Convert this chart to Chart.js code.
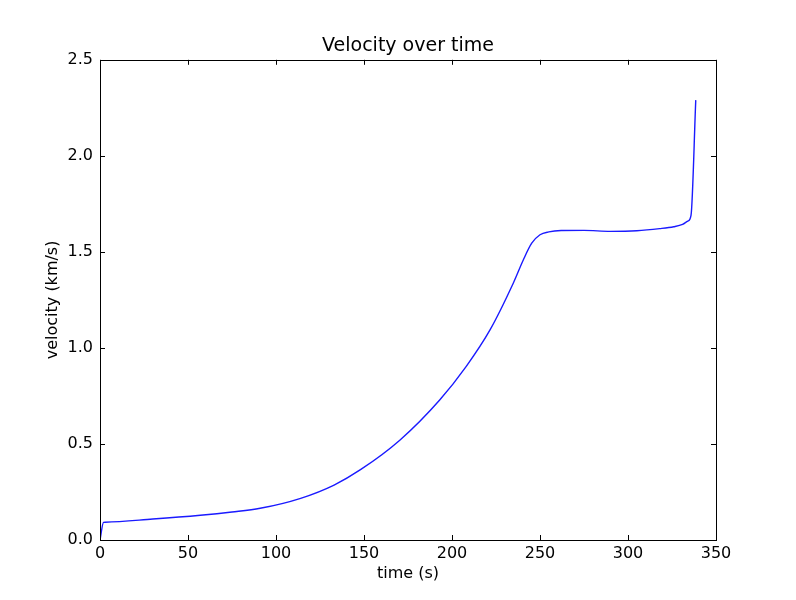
<!DOCTYPE html>
<html>
<head>
<meta charset="utf-8">
<script src="https://cdn.jsdelivr.net/npm/chart.js@4/dist/chart.umd.min.js"></script>
<style>
  html, body { margin: 0; padding: 0; background: #ffffff; }
  #wrap { width: 796px; height: 600px; }
</style>
</head>
<body>
<div id="wrap"><canvas id="c" width="796" height="600"></canvas></div>
<script>
// ---- data ----
const timeSeconds = [0, 2, 3, 30, 57, 75, 91, 114, 133, 148, 170.5, 193, 208, 221.6, 234.8, 240.5, 245.3, 250, 255, 262, 275, 290, 305, 318, 326, 331, 334, 335.8, 338.5];
const velocityKms = [0, 0.092, 0.0927, 0.109, 0.129, 0.146, 0.165, 0.217, 0.286, 0.366, 0.521, 0.729, 0.903, 1.094, 1.337, 1.458, 1.545, 1.589, 1.604, 1.611, 1.612, 1.607, 1.610, 1.621, 1.631, 1.643, 1.660, 1.690, 2.290];
const xTicks = [0, 50, 100, 150, 200, 250, 300, 350];
const yTicks = [0.0, 0.5, 1.0, 1.5, 2.0, 2.5];
const chartTitle = 'Velocity over time';
const xLabel = 'time (s)';
const yLabel = 'velocity (km/s)';

const points = timeSeconds.map((t, i) => ({ x: t, y: velocityKms[i] }));
const FONT = 'DejaVu Sans';

const frameAndTicks = {
  id: 'frameAndTicks',
  afterDraw(chart) {
    const { ctx, chartArea: a, scales } = chart;
    const xs = scales.x, ys = scales.y;
    ctx.save();
    ctx.strokeStyle = '#000000';
    ctx.lineWidth = 1;
    const L = 5;
    ctx.beginPath();
    xTicks.forEach(v => {
      const px = Math.round(xs.getPixelForValue(v)) + 0.5;
      ctx.moveTo(px, a.bottom); ctx.lineTo(px, a.bottom - L);
      ctx.moveTo(px, a.top); ctx.lineTo(px, a.top + L);
    });
    yTicks.forEach(v => {
      const py = Math.round(ys.getPixelForValue(v)) + 0.5;
      ctx.moveTo(a.left, py); ctx.lineTo(a.left + L, py);
      ctx.moveTo(a.right, py); ctx.lineTo(a.right - L, py);
    });
    ctx.stroke();
    ctx.strokeRect(Math.round(a.left) + 0.5, Math.round(a.top) + 0.5,
                   Math.round(a.right - a.left), Math.round(a.bottom - a.top));
    ctx.restore();
  }
};

new Chart(document.getElementById('c'), {
  type: 'line',
  data: {
    datasets: [{
      data: points,
      borderColor: '#1a1aff',
      borderWidth: 1.4,
      pointRadius: 0,
      fill: false,
      cubicInterpolationMode: 'monotone'
    }]
  },
  options: {
    responsive: false,
    animation: false,
    devicePixelRatio: 1,
    layout: { padding: { left: 20, right: 0, top: 0, bottom: 0 } },
    plugins: {
      legend: { display: false },
      tooltip: { enabled: false },
      title: {
        display: true,
        text: chartTitle,
        color: '#000000',
        font: { family: FONT, size: 19, weight: 'normal', lineHeight: 1.2 },
        padding: { top: 35, bottom: 2 }
      }
    },
    scales: {
      x: {
        type: 'linear',
        min: 0, max: 350,
        afterBuildTicks: s => { s.ticks = xTicks.map(v => ({ value: v })); },
        grid: { display: false, drawTicks: false },
        border: { display: false },
        ticks: {
          color: '#000000',
          font: { family: FONT, size: 16 },
          padding: 4,
          maxRotation: 0,
          callback: v => String(v)
        },
        title: {
          display: true, text: xLabel, color: '#000000',
          font: { family: FONT, size: 16 },
          padding: { top: 0, bottom: 17 }
        },
        afterFit: s => { s.height = 60; }
      },
      y: {
        type: 'linear',
        position: 'left',
        min: 0, max: 2.5,
        afterBuildTicks: s => { s.ticks = yTicks.map(v => ({ value: v })); },
        grid: { display: false, drawTicks: false },
        border: { display: false },
        ticks: {
          color: '#000000',
          font: { family: FONT, size: 16 },
          padding: 7,
          callback: v => Number(v).toFixed(1)
        },
        title: {
          display: true, text: yLabel, color: '#000000',
          font: { family: FONT, size: 16 },
          padding: { top: 23, bottom: 0 }
        },
        afterFit: s => { s.width = 80; }
      },
      yRight: {
        type: 'linear',
        position: 'right',
        display: true,
        grid: { display: false, drawTicks: false },
        border: { display: false },
        ticks: { display: false },
        afterFit: s => { s.width = 80; }
      }
    }
  },
  plugins: [frameAndTicks]
});
</script>
</body>
</html>
